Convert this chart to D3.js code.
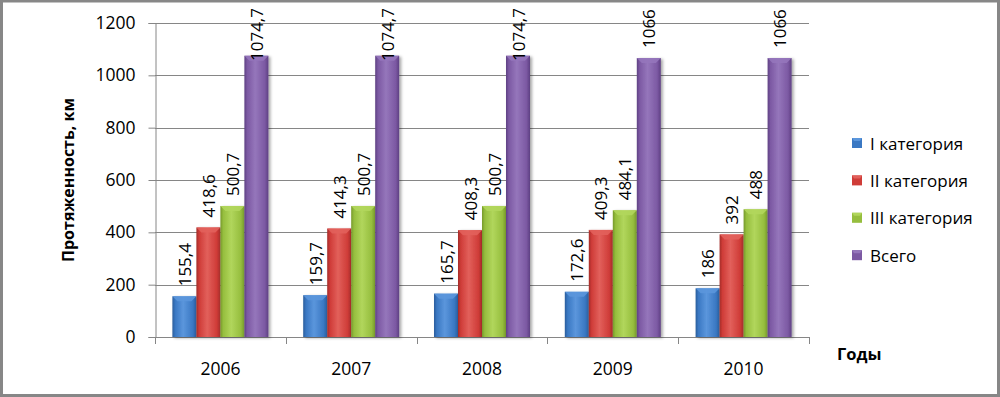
<!DOCTYPE html>
<html lang='ru'>
<head>
<meta charset='utf-8'>
<title>Протяженность дорог</title>
<script src='https://cdn.jsdelivr.net/npm/d3@7'></script>
<style>
	body { margin: 0; background: #fff; }
	text { font-family: 'Open Sans', sans-serif; fill: #000; }
</style>
</head>
<body>
<svg id='svg' width='1000' height='397'></svg>
<script>
{
	// data
	var years = ['2006', '2007', '2008', '2009', '2010'];
	var seriesNames = ['I категория', 'II категория', 'III категория', 'Всего'];
	var cat1 = [155.4, 159.7, 165.7, 172.6, 186];
	var cat2 = [418.6, 414.3, 408.3, 409.3, 392];
	var cat3 = [500.7, 500.7, 500.7, 484.1, 488];
	var total = [1074.7, 1074.7, 1074.7, 1066, 1066];
	var yTicks = [0, 200, 400, 600, 800, 1000, 1200];

	var seriesValues = [cat1, cat2, cat3, total];
	var colors = [
		{ base: '#3a78c3', light: '#5b96dc', dark: '#2a5d9c' },
		{ base: '#cf3c38', light: '#e2605b', dark: '#a42c29' },
		{ base: '#96be3e', light: '#b1d65c', dark: '#76992b' },
		{ base: '#7c59a3', light: '#9576bb', dark: '#5e4083' }
	];

	var svg = d3.select('#svg');
	var W = 1000, H = 397;
	var plotL = 155, plotR = 809, plotT = 23, plotB = 337;

	var defs = svg.append('defs');
	colors.forEach(function(c, i) {
		var g = defs.append('linearGradient').attr('id', 'g' + i)
			.attr('x1', 0).attr('x2', 1).attr('y1', 0).attr('y2', 0);
		g.append('stop').attr('offset', '0%').attr('stop-color', c.dark);
		g.append('stop').attr('offset', '12%').attr('stop-color', c.base);
		g.append('stop').attr('offset', '45%').attr('stop-color', c.light);
		g.append('stop').attr('offset', '85%').attr('stop-color', c.base);
		g.append('stop').attr('offset', '100%').attr('stop-color', c.dark);
	});
	var f = defs.append('filter').attr('id', 'shadow')
		.attr('x', '-30%').attr('y', '-10%').attr('width', '160%').attr('height', '130%');
	f.append('feDropShadow').attr('dx', 2).attr('dy', 1).attr('stdDeviation', 1.5)
		.attr('flood-color', '#000').attr('flood-opacity', 0.35);

	// background and frame
	svg.append('rect').attr('x', 1.5).attr('y', 1).attr('width', W - 3).attr('height', H - 2.5)
		.attr('fill', '#fff').attr('stroke', '#878787').attr('stroke-width', 3);

	var y = d3.scaleLinear().domain([0, 1200]).range([plotB, plotT]);
	var x0 = d3.scaleBand().domain(years).range([plotL, plotR]).paddingInner(0).paddingOuter(0);
	var x1 = d3.scaleBand().domain(d3.range(seriesNames.length)).range([0, x0.bandwidth()])
		.paddingInner(0).paddingOuter(0.725);

	// gridlines
	svg.append('g').selectAll('line').data(yTicks.slice(1)).enter().append('line')
		.attr('x1', plotL).attr('x2', plotR)
		.attr('y1', d => Math.round(y(d)) + 0.5).attr('y2', d => Math.round(y(d)) + 0.5)
		.attr('stroke', '#868686').attr('stroke-width', 1);

	// y axis
	var yAxis = svg.append('g').attr('transform', 'translate(' + (plotL + 0.5) + ',0)')
		.call(d3.axisLeft(y).tickValues(yTicks).tickSize(7).tickPadding(13).tickFormat(d3.format('d')));
	yAxis.select('.domain').attr('stroke', '#868686');
	yAxis.selectAll('.tick line').attr('stroke', '#868686');
	yAxis.selectAll('text').style('font-size', '17.5px').attr('fill', '#000');

	// x axis
	var xAxis = svg.append('g').attr('transform', 'translate(0,' + plotB + ')')
		.call(d3.axisBottom(x0).tickSize(0).tickPadding(26));
	xAxis.select('.domain').attr('stroke', '#868686').attr('d', 'M' + plotL + ',0.5H' + plotR);
	xAxis.selectAll('text').style('font-size', '17.5px').attr('fill', '#000');
	xAxis.append('g').selectAll('line').data(years.concat(['end'])).enter().append('line')
		.attr('x1', (d, i) => Math.round(plotL + i * x0.step()) + 0.5)
		.attr('x2', (d, i) => Math.round(plotL + i * x0.step()) + 0.5)
		.attr('y1', 0).attr('y2', 7).attr('stroke', '#868686');

	// bars
	var groups = svg.append('g').selectAll('g').data(years).enter().append('g')
		.attr('transform', d => 'translate(' + x0(d) + ',0)');

	var bars = groups.selectAll('g.bar').data((d, i) => seriesValues.map((s, k) => ({ k: k, v: s[i] })))
		.enter().append('g').attr('class', 'bar');

	bars.append('rect')
		.attr('x', d => x1(d.k)).attr('width', x1.bandwidth())
		.attr('y', d => y(d.v)).attr('height', d => plotB - y(d.v))
		.attr('fill', d => 'url(#g' + d.k + ')')
		.attr('filter', 'url(#shadow)');
	// top bevel
	bars.append('path')
		.attr('d', function(d) {
			var bx = x1(d.k), bw = x1.bandwidth(), by = y(d.v), b = 5;
			return 'M' + bx + ',' + by + 'H' + (bx + bw) + 'L' + (bx + bw - b) + ',' + (by + b) + 'H' + (bx + b) + 'Z';
		})
		.attr('fill', d => colors[d.k].light).attr('opacity', 0.9);

	// data labels
	bars.append('text')
		.attr('class', 'lbl')
		.style('font-size', '17px')
		.attr('text-anchor', 'start')
		.attr('dominant-baseline', 'central')
		.text(d => String(d.v).replace('.', ','))
		.attr('transform', function(d) {
			var len = this.getComputedTextLength();
			var cx = x1(d.k) + x1.bandwidth() / 2;
			var by = y(d.v) - 10;
			if (by - len < 8) by = 8 + len;
			return 'translate(' + cx + ',' + by + ') rotate(-90)';
		});

	// axis titles
	svg.append('text')
		.attr('transform', 'translate(68,' + ((plotT + plotB) / 2) + ') rotate(-90)')
		.attr('text-anchor', 'middle').attr('dominant-baseline', 'central')
		.style('font-size', '16px').style('font-weight', 'bold')
		.text('Протяженность, км');
	svg.append('text')
		.attr('x', 837).attr('y', 353).attr('dominant-baseline', 'central')
		.style('font-size', '16.5px').style('font-weight', 'bold')
		.text('Годы');

	// legend
	var legend = svg.append('g').selectAll('g').data(seriesNames).enter().append('g')
		.attr('transform', (d, i) => 'translate(852,' + (143 + i * 37.4) + ')');
	legend.append('rect').attr('x', 0).attr('y', -5).attr('width', 10).attr('height', 10)
		.attr('fill', (d, i) => colors[i].base);
	legend.append('path').attr('d', 'M0,-5H10L8,-2H2Z').attr('fill', (d, i) => colors[i].light);
	legend.append('text').attr('x', 18).attr('y', 0).attr('dominant-baseline', 'central')
		.style('font-size', '17px').text(d => d);
}
</script>
</body>
</html>
